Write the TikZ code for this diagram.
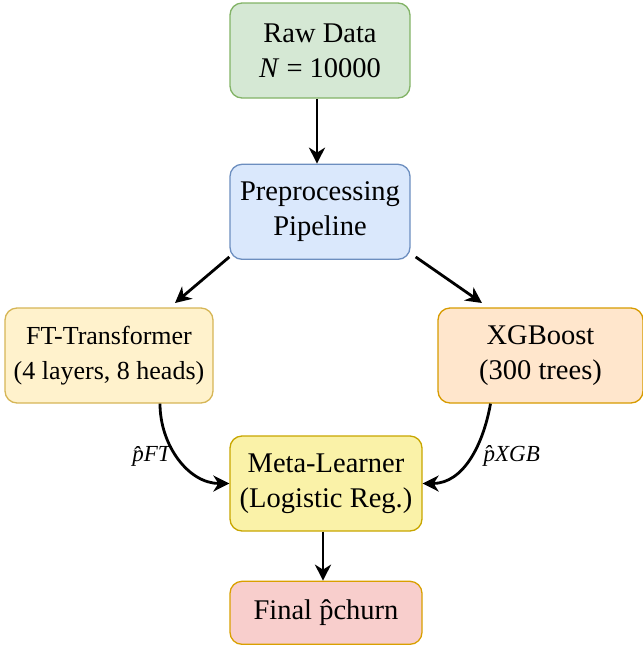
\documentclass[tikz,border=0pt]{standalone}
\usepackage{fontspec}
\setmainfont{Liberation Serif}
\usepackage{xcolor}
\usetikzlibrary{arrows.meta,positioning}

\definecolor{rawfill}{HTML}{D5E8D4}\definecolor{rawline}{HTML}{82B366}
\definecolor{prefill}{HTML}{DAE8FC}\definecolor{preline}{HTML}{6C8EBF}
\definecolor{ftfill}{HTML}{FFF2CC}\definecolor{ftline}{HTML}{D6B656}
\definecolor{xgbfill}{HTML}{FFE6CC}\definecolor{xgbline}{HTML}{D79B00}
\definecolor{metafill}{HTML}{FAF2A8}\definecolor{metaline}{HTML}{C8A600}
\definecolor{finfill}{HTML}{F8CECC}\definecolor{finline}{HTML}{D9A000}

\begin{document}
\begin{tikzpicture}[
  x=1pt,y=-1pt,
  box/.style={draw,rounded corners=12pt,align=center,line width=1.3pt,
              minimum height=95pt,inner sep=2pt,
              font=\fontsize{28.5}{35}\selectfont},
  lbl/.style={font=\fontsize{23}{26}\selectfont\itshape,inner sep=1pt},
  arr/.style={-{Stealth[length=16pt,width=16pt,inset=5pt]},line width=2.8pt}
]
\useasboundingbox (0,0) rectangle (643,649);
\node[box,fill=rawfill,draw=rawline,minimum width=180pt] (raw) at (320,50.5)
  {Raw Data\\\textit{N} = 10000};
\node[box,fill=prefill,draw=preline,minimum width=180pt,below=65pt of raw] (pre)
  {Preprocessing\\Pipeline};
\node[box,fill=ftfill,draw=ftline,minimum width=208pt,
      font=\fontsize{26}{35}\selectfont] (ft) at (109,355.5)
  {FT-Transformer\\(4 layers, 8 heads)};
\node[box,fill=xgbfill,draw=xgbline,minimum width=205pt] (xgb) at (540.5,355.5)
  {XGBoost\\(300 trees)};
\node[box,fill=metafill,draw=metaline,minimum width=192pt] (meta) at (326,483.5)
  {Meta-Learner\\(Logistic Reg.)};
\node[box,fill=finfill,draw=finline,minimum width=192pt,minimum height=63pt,
      below=49pt of meta] (fin) {Final \^{p}churn};
\draw[arr] ([xshift=-3pt]raw.south) -- ([xshift=-3pt]pre.north);
\draw[arr] (pre.south west) ++(0,-3) coordinate (pa) (pa) -- (175,303);
\draw[arr] ([xshift=5pt,yshift=3pt]pre.south east) -- (482,303);
\draw[arr] ([xshift=51pt]ft.south) to[out=-90,in=180]
  node[lbl,pos=0.47,left=4pt] {\^{p}FT} (meta.west);
\draw[arr] ([xshift=-50pt]xgb.south) to[out=-100,in=0]
  node[lbl,pos=0.47,right=10pt] {\^{p}XGB} (meta.east);
\draw[arr] ([xshift=-3pt]meta.south) -- ([xshift=-3pt]fin.north);
\end{tikzpicture}
\end{document}
